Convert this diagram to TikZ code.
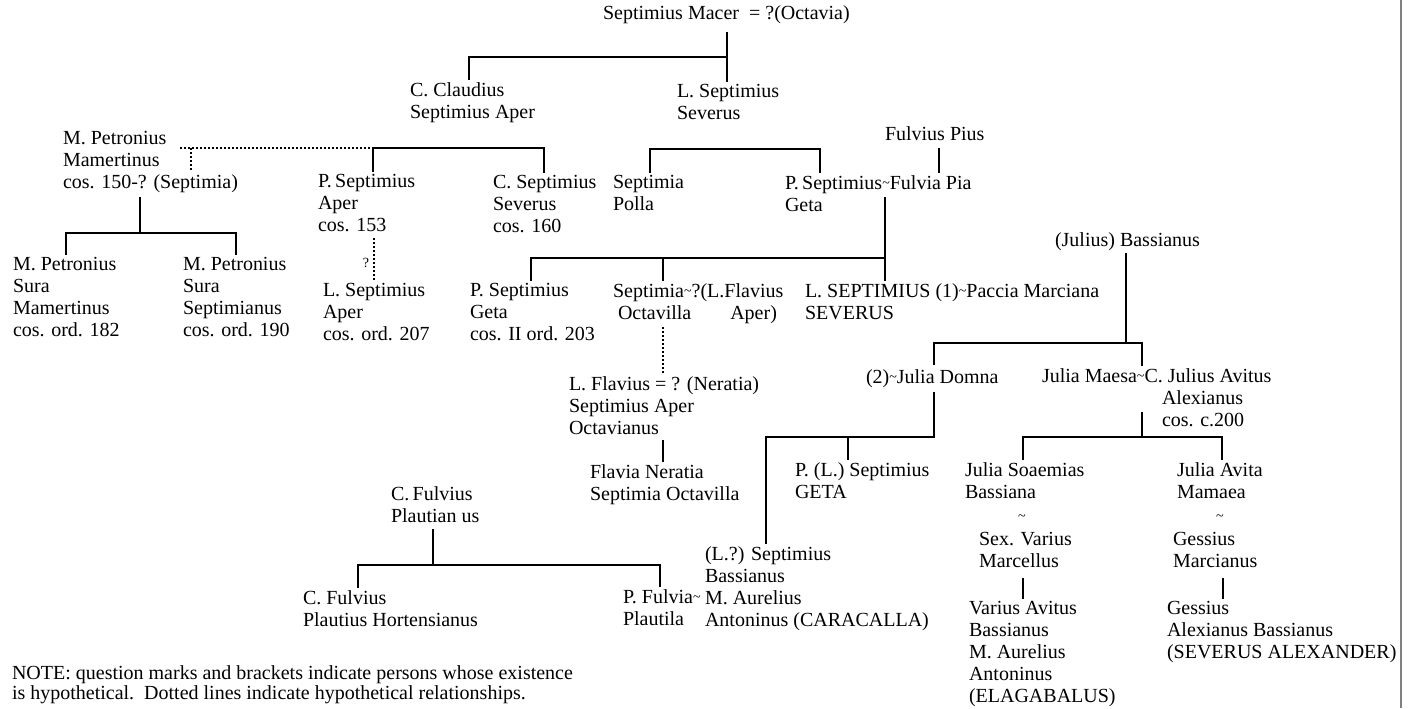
\documentclass[tikz,border=0pt]{standalone}
\usepackage{fontspec}
\setmainfont{Liberation Serif}
\newcommand{\wed}{\raisebox{0.2ex}{\scriptsize\textasciitilde}}
\begin{document}
\begin{tikzpicture}[x=0.5pt,y=-0.5pt]
	\tikzstyle{person} = [anchor=north west, align=left, inner sep=0pt, outer sep=1.5pt, xshift=-1.5pt, yshift=9.2pt, font=\fontsize{10}{11}\selectfont, execute at begin node=\strut]
	\tikzstyle{descent} = [draw=black, line width=0.9pt]
	\tikzstyle{descent_hyp} = [draw=black, line width=0.8pt, dash pattern=on 1pt off 1pt]

	\useasboundingbox (0,0) rectangle (1410,708);
	\draw[gray, line width=1pt] (1401,0) -- (1401,708);

%------------------------------------------------------------
	\node[person] (macer) at (603,19) {Septimius Macer\ \ = ?(Octavia)};
	\node[person] (claudius) at (410,98) {C. Claudius\\Septimius Aper};
	\node[person] (lsev) at (677,100) {L. Septimius\\Severus};

	\coordinate (m_top) at (727,32);
	\coordinate (m_bar) at (469,57);
	\draw[descent] (m_top) -- (lsev.north -| m_top);
	\draw[descent] (m_top |- m_bar) -- (m_bar) -- (claudius.north -| m_bar);

%------------------------------------------------------------
	\node[person] (petronius) at (63,147) {M. Petronius\\Mamertinus\\cos. 150-? (Septimia)};
	\node[person] (paper) at (318,190) {P.\,Septimius\\Aper\\cos. 153};
	\node[person] (cseverus) at (493,191) {C. Septimius\\Severus\\cos. 160};
	\node[person] (polla) at (613,191) {Septimia\\Polla};
	\node[person] (pgeta) at (785,191) {P.\,Septimius\wed Fulvia Pia\\Geta};
	\node[person] (fpius) at (885,140) {Fulvius Pius};

	\coordinate (pe_dot) at (180,148);
	\coordinate (pe_link) at (191,148);
	\coordinate (pe_link_end) at (191,172);
	\coordinate (a_bar_l) at (373,148);
	\coordinate (a_bar_r) at (544,148);
	\draw[descent_hyp] (pe_dot) -- (a_bar_l);
	\draw[descent_hyp] (pe_link) -- (pe_link_end);
	\draw[descent] (paper.north -| a_bar_l) -- (a_bar_l) -- (a_bar_r) -- (cseverus.north -| a_bar_r);

	\coordinate (s_bar_l) at (650,149);
	\coordinate (s_bar_r) at (820,149);
	\draw[descent] (polla.north -| s_bar_l) -- (s_bar_l) -- (s_bar_r) -- (pgeta.north -| s_bar_r);

	\coordinate (fp_x) at (939,148);
	\draw[descent] (fp_x) -- (pgeta.north -| fp_x);

%------------------------------------------------------------
	\node[person] (sura1) at (13,273) {M. Petronius\\Sura\\Mamertinus\\cos. ord. 182};
	\node[person] (sura2) at (183,273) {M. Petronius\\Sura\\Septimianus\\cos. ord. 190};
	\node[person] (laper) at (323,299) {L. Septimius\\Aper\\cos. ord. 207};

	\coordinate (pe_top) at (140,197);
	\coordinate (pe_bar_l) at (66,233);
	\coordinate (pe_bar_r) at (236,233);
	\draw[descent] (pe_top) -- (pe_top |- pe_bar_l);
	\draw[descent] (sura1.north -| pe_bar_l) -- (pe_bar_l) -- (pe_bar_r) -- (sura2.north -| pe_bar_r);

	\coordinate (ap_down) at (374,238);
	\draw[descent_hyp] (ap_down) -- (laper.north -| ap_down);
	\node[inner sep=0pt, font=\scriptsize] (ap_q) at (366,263) {?};

%------------------------------------------------------------
	\node[person] (geta2) at (470,299) {P. Septimius\\Geta\\cos. II ord. 203};
	\node[person] (octavilla) at (613,299) {Septimia\wed?(L.Flavius\\\hspace*{2.5pt}Octavilla\hspace{19.5pt}Aper)};
	\node[person] (severus) at (805,299) {L. SEPTIMIUS (1)\wed Paccia Marciana\\SEVERUS};

	\coordinate (g_top) at (885,197);
	\coordinate (g_bar) at (531,258);
	\coordinate (g_mid) at (663,258);
	\draw[descent] (g_top) -- (severus.north -| g_top);
	\draw[descent] (g_top |- g_bar) -- (g_bar) -- (geta2.north -| g_bar);
	\draw[descent] (g_mid) -- (octavilla.north -| g_mid);

	\node[person] (flavius) at (569,392) {L. Flavius = ? (Neratia)\\Septimius Aper\\Octavianus};
	\node[person] (neratia) at (590,480) {Flavia Neratia\\Septimia Octavilla};

	\coordinate (oc_down) at (663,327);
	\coordinate (fl_down) at (663,440);
	\draw[descent_hyp] (oc_down) -- (flavius.north -| oc_down);
	\draw[descent] (fl_down) -- (neratia.north -| fl_down);

%------------------------------------------------------------
	\node[person] (bassianus) at (1055,246) {(Julius) Bassianus};
	\node[person] (domna) at (866,383) {(2)\wed Julia Domna};
	\node[person] (maesa) at (1042,384) {Julia Maesa\wed C. Julius Avitus\\\hspace*{60pt}Alexianus\\\hspace*{60pt}cos. c.200};

	\coordinate (b_top) at (1126,253);
	\coordinate (b_bar_l) at (934,343);
	\coordinate (b_bar_r) at (1142,343);
	\draw[descent] (b_top) -- (b_top |- b_bar_l);
	\draw[descent] (domna.north -| b_bar_l) -- (b_bar_l) -- (b_bar_r) -- (maesa.north -| b_bar_r);

%------------------------------------------------------------
	\node[person] (lgeta) at (795,478) {P. (L.) Septimius\\GETA};
	\node[person] (caracalla) at (705,562) {(L.?) Septimius\\Bassianus\\M. Aurelius\\Antoninus (CARACALLA)};

	\coordinate (d_top) at (934,392);
	\coordinate (d_bar) at (766,437);
	\coordinate (d_mid) at (848,437);
	\draw[descent] (d_top) |- (d_bar) -- (caracalla.north -| d_bar);
	\draw[descent] (d_mid) -- (lgeta.north -| d_mid);

%------------------------------------------------------------
	\node[person] (soaemias) at (965,478) {Julia Soaemias\\Bassiana};
	\node[person] (avita) at (1177,478) {Julia Avita\\Mamaea};
	\node[inner sep=0pt] (wed1) at (1022,519) {\wed};
	\node[inner sep=0pt] (wed2) at (1220,519) {\wed};
	\node[person] (marcellus) at (979,548) {Sex. Varius\\Marcellus};
	\node[person] (marcianus) at (1173,548) {Gessius\\Marcianus};
	\node[person] (elagabalus) at (969,617) {Varius Avitus\\Bassianus\\M. Aurelius\\Antoninus\\(ELAGABALUS)};
	\node[person] (alexander) at (1167,617) {Gessius\\Alexianus Bassianus\\(SEVERUS ALEXANDER)};

	\coordinate (ma_top) at (1142,412);
	\coordinate (ma_bar_l) at (1023,437);
	\coordinate (ma_bar_r) at (1222,437);
	\draw[descent] (ma_top) -- (ma_top |- ma_bar_l);
	\draw[descent] (soaemias.north -| ma_bar_l) -- (ma_bar_l) -- (ma_bar_r) -- (avita.north -| ma_bar_r);

	\coordinate (mc_down) at (1023,578);
	\coordinate (mn_down) at (1223,578);
	\draw[descent] (mc_down) -- (elagabalus.north -| mc_down);
	\draw[descent] (mn_down) -- (alexander.north -| mn_down);

%------------------------------------------------------------
	\node[person] (plautianus) at (391,502) {C.\,Fulvius\\Plautian us};
	\node[person] (hortensianus) at (303,606) {C. Fulvius\\Plautius Hortensianus};
	\node[person] (plautila) at (623,605) {P. Fulvia\wed\\Plautila};

	\coordinate (pl_top) at (433,529);
	\coordinate (pl_bar_l) at (358,565);
	\coordinate (pl_bar_r) at (660,565);
	\draw[descent] (pl_top) -- (pl_top |- pl_bar_l);
	\draw[descent] (hortensianus.north -| pl_bar_l) -- (pl_bar_l) -- (pl_bar_r) -- (plautila.north -| pl_bar_r);

%------------------------------------------------------------
	\node[person, font=\fontsize{10}{10}\selectfont] (note) at (12,681) {NOTE: question marks and brackets indicate persons whose existence\\is hypothetical.\ \ Dotted lines indicate hypothetical relationships.};

\end{tikzpicture}
\end{document}
